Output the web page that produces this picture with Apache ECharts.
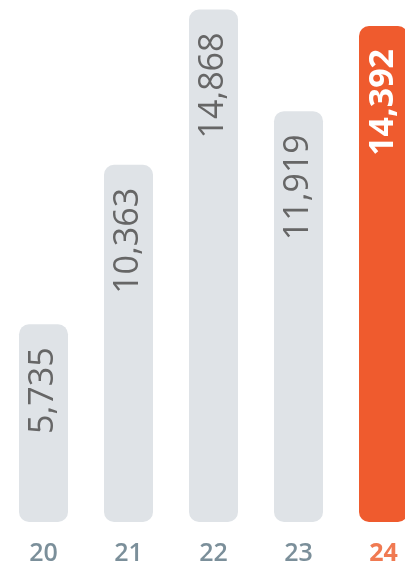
<!DOCTYPE html>
<html>
<head>
<meta charset="utf-8">
<script src="https://cdn.jsdelivr.net/npm/echarts@6/dist/echarts.min.js"></script>
<style>
html,body{margin:0;padding:0;background:#fff;overflow:hidden;}
#c{width:426px;height:570px;}
</style>
</head>
<body>
<div id="c"></div>
<script>
const categories = ['20', '21', '22', '23', '24'];
const values = [5735, 10363, 14868, 11919, 14392];
const highlightIndex = 4;

const GRAY = '#dfe3e7';
const ORANGE = '#ef5b2e';
const FONT = 'Open Sans';

const chart = echarts.init(document.getElementById('c'), null, {renderer: 'canvas'});
const fmt = v => v.toLocaleString('en-US');

chart.setOption({
  animation: false,
  grid: {left: 1, right: 0, top: 5, bottom: 48, containLabel: false},
  xAxis: {
    type: 'category',
    data: categories,
    axisLine: {show: false},
    axisTick: {show: false},
    axisLabel: {
      interval: 0,
      hideOverlap: false,
      margin: 19,
      fontFamily: FONT,
      fontSize: 25,
      fontWeight: 600,
      color: '#7b8f9a',
      formatter: (v, i) => i === highlightIndex ? '{h|' + v + '}' : v,
      rich: {h: {fontFamily: FONT, fontSize: 25, fontWeight: 'bold', color: '#f07a52'}}
    }
  },
  yAxis: {
    type: 'value', min: 0, max: 15000, show: false,
    splitLine: {show: false}
  },
  series: [{
    type: 'bar',
    barWidth: 49,
    data: values.map((v, i) => ({
      value: v,
      itemStyle: {color: i === highlightIndex ? ORANGE : GRAY, borderRadius: 10},
      label: i === highlightIndex ? {color: '#ffffff', fontWeight: 'bold'} : {}
    })),
    label: {
      show: true,
      position: 'insideTop',
      distance: 23,
      rotate: 90,
      align: 'right',
      verticalAlign: 'middle',
      fontFamily: FONT,
      fontSize: 34,
      color: '#666666',
      formatter: p => fmt(p.value)
    }
  }]
});
</script>
</body>
</html>
